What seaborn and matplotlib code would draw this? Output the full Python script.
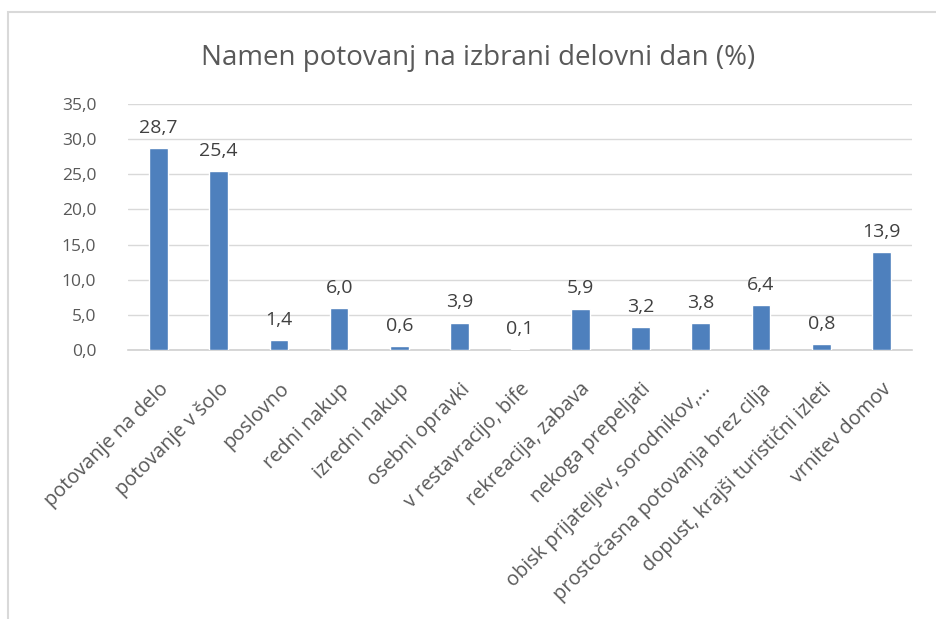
import matplotlib
matplotlib.use('Agg')
import matplotlib.pyplot as plt
import seaborn as sns
import pandas as pd
from matplotlib.patches import Rectangle

# Namen potovanj na izbrani delovni dan
categories = ['potovanje na delo', 'potovanje v šolo', 'poslovno', 'redni nakup',
              'izredni nakup', 'osebni opravki', 'v restavracijo, bife',
              'rekreacija, zabava', 'nekoga prepeljati',
              'obisk prijateljev, sorodnikov,…', 'prostočasna potovanja brez cilja',
              'dopust, krajši turistični izleti', 'vrnitev domov']
values = [28.7, 25.4, 1.4, 6.0, 0.6, 3.9, 0.1, 5.9, 3.2, 3.8, 6.4, 0.8, 13.9]
yticks = [0, 5, 10, 15, 20, 25, 30, 35]

df = pd.DataFrame({'namen': categories, 'delez': values})

sns.set_style('white')
plt.rcParams['font.family'] = ['Open Sans', 'DejaVu Sans']
txt = '#595959'

fig = plt.figure(figsize=(9.36, 6.19), dpi=100)
ax = fig.add_axes([0.137, 0.4346, 0.837, 0.3974])

sns.barplot(data=df, x='namen', y='delez', color='#4E80BD', width=0.31,
            saturation=1, ax=ax, zorder=3)

ax.set_ylim(0, 35)
ax.set_yticks(yticks)
ax.set_yticklabels([f'{v:.1f}'.replace('.', ',') for v in yticks], fontsize=12.5, color=txt)
ax.set_xlim(-0.5, len(categories) - 0.5)
ax.set_xticks(range(len(categories)))
ax.set_xticklabels(categories, rotation=45, ha='right', rotation_mode='anchor',
                   fontsize=14.3, color=txt)
ax.tick_params(axis='y', length=0, pad=23)
ax.tick_params(axis='x', length=0, pad=21)
ax.set_xlabel('')
ax.set_ylabel('')

ax.grid(axis='y', color='#D9D9D9', lw=1, zorder=0)
for s in ['top', 'right', 'left']:
    ax.spines[s].set_visible(False)
ax.spines['bottom'].set_color('#D0D0D0')
ax.spines['bottom'].set_linewidth(1.2)

for i, v in enumerate(values):
    ax.annotate(f'{v:.1f}'.replace('.', ','), (i, v), xytext=(0, 8),
                textcoords='offset points', ha='center', va='bottom',
                fontsize=14, color='#404040')

fig.text(0.511, 0.906, 'Namen potovanj na izbrani delovni dan (%)', ha='center',
         va='center', fontsize=20, color=txt)

# chart frame
fig.patches.append(Rectangle((8 / 936, -0.05), 1.0, 1 - 12 / 619 + 0.05,
                             transform=fig.transFigure, fill=False,
                             edgecolor='#D9D9D9', lw=1.5))

fig.savefig('out.png', dpi=100)
